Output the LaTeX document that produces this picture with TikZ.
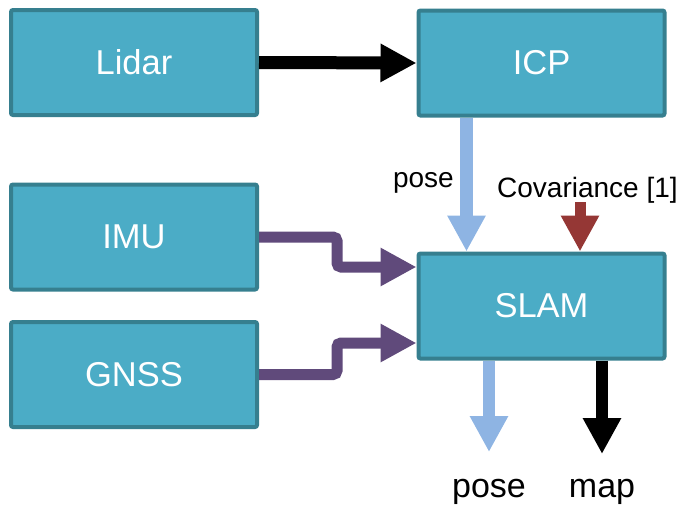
\documentclass[tikz,border=0pt]{standalone}
\usepackage{fontspec}
\setmainfont{Liberation Sans}
\usetikzlibrary{arrows.meta}

\definecolor{boxfill}{RGB}{75,172,198}
\definecolor{boxline}{RGB}{54,127,143}
\definecolor{posecol}{RGB}{142,180,227}
\definecolor{covcol}{RGB}{149,55,53}
\definecolor{fusecol}{RGB}{96,74,123}

\tikzset{
  block/.style={draw=boxline, fill=boxfill, line width=4pt, rounded corners=2pt,
    minimum width=246pt, minimum height=105pt, inner sep=0pt, text=white,
    font=\fontsize{34.5}{40}\selectfont},
  flow/.style={line width=#1, -{Triangle[length=36pt,width=36pt]}},
  tag/.style={inner sep=0pt, font=\fontsize{28}{32}\selectfont},
  outtag/.style={inner sep=0pt, anchor=base, font=\fontsize{34}{40}\selectfont}
}

\begin{document}
\begin{tikzpicture}[x=1pt,y=-1pt]

\useasboundingbox (0,0) rectangle (680,504);

\node[block] (lidar) at (134,62.5) {Lidar};
\node[block] (icp) at (541.5,63) {ICP};
\node[block] (imu) at (134,237) {IMU};
\node[block] (gnss) at (134,374.5) {GNSS};
\node[block] (slam) at (541.5,306) {SLAM};

\node[tag, anchor=base east] (posein) at (454,187) {pose};
\node[tag, anchor=base west] (cov) at (497,197) {Covariance [1]};
\coordinate (covtop) at (580,202);

\node[outtag] (poseout) at (489,497) {pose};
\node[outtag] (map) at (602,497) {map};

\draw[flow=13pt, black] (lidar.east) -- (icp.west);

\draw[flow=13pt, posecol] ([xshift=-75pt]icp.south) -- ([xshift=-75pt]slam.north);

\draw[flow=11pt, covcol] (covtop) -- (covtop |- slam.north);

\draw[flow=11pt, fusecol, rounded corners=4pt] (imu.east) -- (337,237) |- ([yshift=39pt]slam.west);

\draw[flow=11pt, fusecol, rounded corners=4pt] (gnss.east) -- (337,374.5) |- ([yshift=-37pt]slam.west);

\draw[flow=12pt, posecol] (poseout |- slam.south) -- (489,452);

\draw[flow=12pt, black] (map |- slam.south) -- (602,454);

\end{tikzpicture}
\end{document}
